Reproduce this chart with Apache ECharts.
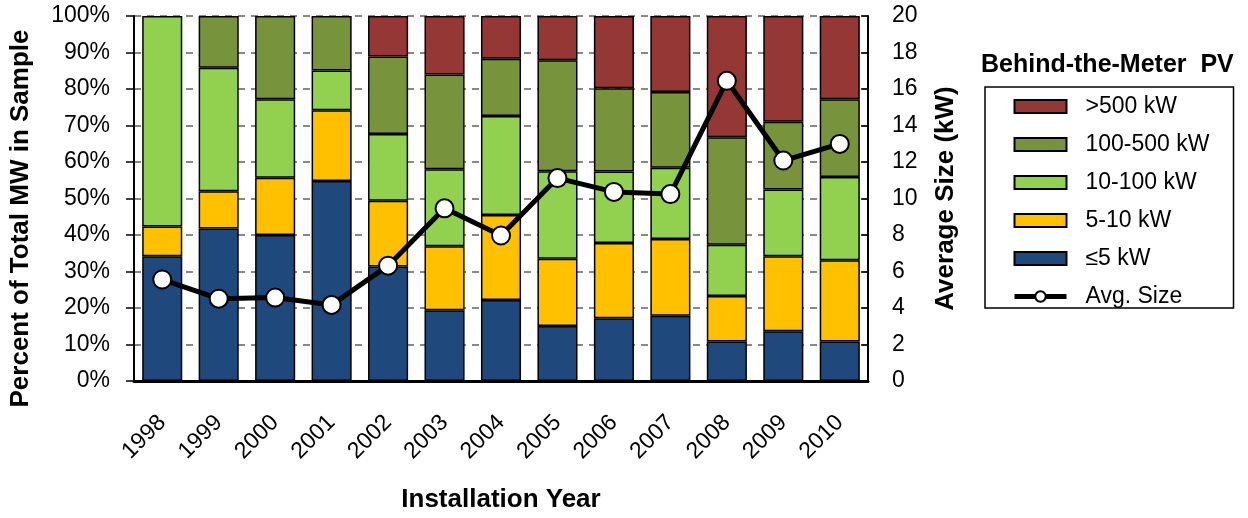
<!DOCTYPE html>
<html>
<head>
<meta charset="utf-8">
<script src="https://cdn.jsdelivr.net/npm/echarts@6/dist/echarts.min.js"></script>
<style>
  html, body { margin: 0; padding: 0; background: #fff; }
  #main { width: 1248px; height: 518px; }
</style>
</head>
<body>
<div id="main"></div>
<script>
// installation years
var years = ["1998", "1999", "2000", "2001", "2002", "2003", "2004", "2005", "2006", "2007", "2008", "2009", "2010"];

// share of total MW (%) by system size
var le5 = [34.2, 41.8, 40.0, 54.8, 31.4, 19.4, 22.2, 15.1, 17.2, 17.9, 10.8, 13.6, 10.8];
var s5to10 = [8.1, 10.2, 15.7, 19.4, 18.0, 17.5, 23.3, 18.4, 20.6, 21.0, 12.5, 20.6, 22.3];
var s10to100 = [57.7, 33.8, 21.5, 10.9, 18.3, 21.1, 27.1, 24.0, 19.6, 19.5, 14.0, 18.3, 22.8];
var s100to500 = [0, 14.2, 22.8, 14.9, 21.2, 26.0, 15.7, 30.4, 22.8, 20.8, 29.5, 18.5, 21.3];
var gt500 = [0, 0, 0, 0, 11.1, 16.0, 11.7, 12.1, 19.8, 20.8, 33.2, 29.0, 22.8];

// average system size (kW)
var avgSize = [5.56, 4.51, 4.57, 4.17, 6.32, 9.46, 7.97, 11.12, 10.36, 10.24, 16.45, 12.08, 12.99];

var font = "Liberation Sans";

function barSeries(name, color, data) {
  return {
    name: name,
    type: "bar",
    stack: "mw",
    barCategoryGap: "29%",
    itemStyle: { color: color, borderColor: "#000", borderWidth: 1.5 },
    // empty segments: no border line drawn
    data: data.map(function (v) { return v === 0 ? "-" : v; })
  };
}

var chart = echarts.init(document.getElementById("main"));
chart.setOption({
  animation: false,
  textStyle: { fontFamily: font },
  title: {
    text: "Behind-the-Meter  PV",
    left: 981,
    top: 53,
    padding: 0,
    textStyle: { fontFamily: font, fontSize: 25, fontWeight: "bold", color: "#000" }
  },
  legend: {
    orient: "vertical",
    left: 985,
    top: 87,
    padding: [8, 24, 0, 27],
    borderColor: "#000",
    borderWidth: 1.5,
    itemWidth: 52,
    itemHeight: 13,
    itemGap: 15,
    textStyle: { fontFamily: font, fontSize: 23, color: "#000", padding: [0, 0, 0, 14] },
    data: [
      { name: ">500 kW", icon: "rect" },
      { name: "100-500 kW", icon: "rect" },
      { name: "10-100 kW", icon: "rect" },
      { name: "5-10 kW", icon: "rect" },
      { name: "≤5 kW", icon: "rect" },
      { name: "Avg. Size", lineStyle: { width: 5, color: "#000" }, itemStyle: { color: "#fff", borderColor: "#000", borderWidth: 2 } }
    ]
  },
  grid: { left: 134, right: 380, top: 16, bottom: 134 },
  xAxis: {
    type: "category",
    data: years,
    name: "Installation Year",
    nameLocation: "middle",
    nameGap: 106,
    nameTextStyle: { fontFamily: font, fontSize: 26, fontWeight: "bold", color: "#000" },
    axisLine: { lineStyle: { color: "#000", width: 3 } },
    axisTick: { interval: 0, length: 7, lineStyle: { color: "#000", width: 2 } },
    axisLabel: { interval: 0, rotate: 45, margin: 38, fontFamily: font, fontSize: 23, color: "#000" }
  },
  yAxis: [
    {
      type: "value",
      min: 0,
      max: 100,
      interval: 10,
      name: "Percent of Total MW in Sample",
      nameLocation: "middle",
      nameRotate: 90,
      nameGap: 100,
      nameTextStyle: { fontFamily: font, fontSize: 26, fontWeight: "bold", color: "#000", padding: [0, 40, 0, 0] },
      axisLine: { show: true, lineStyle: { color: "#000", width: 2 } },
      axisTick: { show: true, length: 8, lineStyle: { color: "#000", width: 1.5 } },
      axisLabel: { formatter: "{value}%", margin: 24, fontFamily: font, fontSize: 23, color: "#000" },
      splitLine: { show: true, lineStyle: { color: "#888", width: 2, type: [7, 6] } }
    },
    {
      type: "value",
      min: 0,
      max: 20,
      interval: 2,
      position: "right",
      name: "Average Size (kW)",
      nameLocation: "middle",
      nameRotate: 90,
      nameGap: 65,
      nameTextStyle: { fontFamily: font, fontSize: 26, fontWeight: "bold", color: "#000" },
      axisLine: { show: true, lineStyle: { color: "#000", width: 2 } },
      axisTick: { show: true, inside: true, length: 7, lineStyle: { color: "#000", width: 1.5 } },
      axisLabel: { margin: 24, fontFamily: font, fontSize: 23, color: "#000" },
      splitLine: { show: false }
    }
  ],
  series: [
    barSeries("≤5 kW", "#1F497D", le5),
    barSeries("5-10 kW", "#FFC000", s5to10),
    barSeries("10-100 kW", "#92D050", s10to100),
    barSeries("100-500 kW", "#77933C", s100to500),
    barSeries(">500 kW", "#953735", gt500),
    {
      name: "Avg. Size",
      type: "line",
      yAxisIndex: 1,
      z: 5,
      symbol: "circle",
      symbolSize: 18,
      lineStyle: { color: "#000", width: 5 },
      itemStyle: { color: "#fff", borderColor: "#000", borderWidth: 2 },
      data: avgSize
    }
  ]
});
</script>
</body>
</html>
